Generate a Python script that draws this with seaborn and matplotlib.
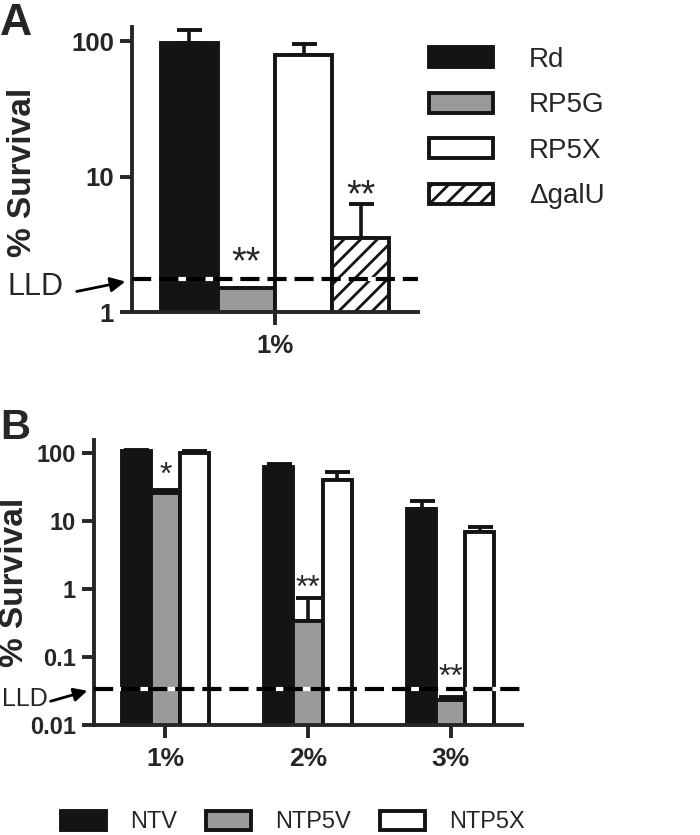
import matplotlib
matplotlib.use("Agg")
import matplotlib.pyplot as plt
import numpy as np
import pandas as pd
import seaborn as sns
from matplotlib.ticker import FixedLocator, FixedFormatter, NullLocator

# ---- data ----
conc_a = ['1%']
strains_a = ['Rd', 'RP5G', 'RP5X', '\u0394galU']
surv_a = [97, 1.5, 79, 3.5]
err_a = [23, 0, 16, 2.8]
stars_a = ['', '**', '', '**']
star_y_a = [None, 2.3, None, 7.2]
lld_a = 1.75

conc_b = ['1%', '2%', '3%']
strains_b = ['NTV', 'NTP5V', 'NTP5X']
ntv = [107, 62, 15]
ntv_err = [5, 7, 4.5]
ntp5v = [26, 0.34, 0.023]
ntp5v_err = [2.5, 0.4, 0.003]
ntp5x = [101, 40, 6.9]
ntp5x_err = [5, 12, 1.2]
stars_b = ['*', '**', '**']
star_y_b = [46, 1.0, 0.05]
lld_b = 0.034

# ---- style ----
sns.set_theme(style="ticks")
plt.rcParams['font.family'] = ['Liberation Sans', 'DejaVu Sans']
plt.rcParams['hatch.linewidth'] = 2.0
plt.rcParams['axes.linewidth'] = 2.8

BLACK = '#141414'
GRAY = '#9a9a9a'

fig = plt.figure(figsize=(7, 8.35), dpi=100)
W, H = 700, 835


def px_axes(l, r, t, b):
    return fig.add_axes([l / W, 1 - b / H, (r - l) / W, (b - t) / H])


def style_axis(ax, yticks, ylabels, ysize, xsize):
    ax.set_yscale('log')
    ax.yaxis.set_major_locator(FixedLocator(yticks))
    ax.yaxis.set_major_formatter(FixedFormatter(ylabels))
    ax.yaxis.set_minor_locator(NullLocator())
    sns.despine(ax=ax)
    ax.tick_params(axis='both', length=9, width=2.8, pad=4)
    ax.tick_params(axis='y', labelsize=ysize)
    ax.tick_params(axis='x', labelsize=xsize, pad=7)
    for lab in ax.get_yticklabels() + ax.get_xticklabels():
        lab.set_fontweight('bold')
    ax.set_xlabel('')
    ax.set_facecolor('white')


def add_errors(ax, errs):
    for cont, e in zip(ax.containers, errs):
        xs = [b.get_x() + b.get_width() / 2 for b in cont]
        ys = [b.get_height() for b in cont]
        ax.errorbar(xs, ys, yerr=[np.zeros(len(e)), e], fmt='none', ecolor=BLACK,
                    elinewidth=2.6, capsize=9, capthick=2.8, zorder=1)


# ---- panel A ----
ax_a = px_axes(132, 418, 27, 312)
df_a = pd.DataFrame({'conc': conc_a * len(strains_a), 'strain': strains_a, 'surv': surv_a})
sns.barplot(data=df_a, x='conc', y='surv', hue='strain', hue_order=strains_a,
            palette=[BLACK, GRAY, 'white', 'white'], width=0.8, ax=ax_a,
            edgecolor=BLACK, linewidth=2.8, legend=False, zorder=2)
ax_a.containers[3][0].set_hatch('//')
add_errors(ax_a, [[e] for e in err_a])
style_axis(ax_a, [1, 10, 100], ['1', '10', '100'], 18.5, 18.5)
ax_a.set_ylim(1, 127)
ax_a.set_xlim(-0.5, 0.5)
ax_a.axhline(lld_a, color='black', lw=3, dashes=(4.6, 1.9), gapcolor='white', zorder=3)
for cont, s, sy in zip(ax_a.containers, stars_a, star_y_a):
    if s:
        b = cont[0]
        ax_a.text(b.get_x() + b.get_width() / 2, sy, s, ha='center', va='center',
                  fontsize=27, zorder=4)
ax_a.set_ylabel('% Survival', fontsize=24, fontweight='bold')
ax_a.yaxis.set_label_coords(-0.33, 0.49)
ax_a.legend(handles=[c[0] for c in ax_a.containers], labels=strains_a,
            loc='upper left', bbox_to_anchor=(429 / W, 1 - 47 / H),
            bbox_transform=fig.transFigure, frameon=False, fontsize=20,
            handlelength=2.3, handleheight=0.72, handletextpad=1.3,
            labelspacing=0.7, borderpad=0, borderaxespad=0)
fig.text(0 / W, 1 - 3 / H, 'A', fontsize=32, fontweight='bold', ha='left', va='top')
fig.text(35 / W, 1 - 287 / H, 'LLD', fontsize=22, ha='center', va='center')
ax_a.annotate('', xy=(128, H - 281), xycoords='figure pixels',
              xytext=(74, H - 292), textcoords='figure pixels',
              arrowprops=dict(arrowstyle='-|>', color='black', lw=2, mutation_scale=22))

# ---- panel B ----
ax_b = px_axes(94, 522, 440, 725)
df_b = pd.DataFrame({
    'conc': conc_b * 3,
    'strain': np.repeat(strains_b, len(conc_b)),
    'surv': ntv + ntp5v + ntp5x,
})
sns.barplot(data=df_b, x='conc', y='surv', hue='strain', hue_order=strains_b,
            palette=[BLACK, GRAY, 'white'], width=0.61, ax=ax_b,
            edgecolor=BLACK, linewidth=2.8, legend=False, zorder=2)
add_errors(ax_b, [ntv_err, ntp5v_err, ntp5x_err])
style_axis(ax_b, [0.01, 0.1, 1, 10, 100], ['0.01', '0.1', '1', '10', '100'], 17, 19)
ax_b.set_ylim(0.01, 155)
ax_b.set_xlim(-0.5, 2.5)
ax_b.axhline(lld_b, color='black', lw=3, dashes=(4.6, 1.9), gapcolor='white', zorder=3)
for b, s, sy in zip(ax_b.containers[1], stars_b, star_y_b):
    ax_b.text(b.get_x() + b.get_width() / 2, sy, s, ha='center', va='center',
              fontsize=23, zorder=4)
ax_b.set_ylabel('% Survival', fontsize=24, fontweight='bold')
ax_b.yaxis.set_label_coords(-0.15, 0.5)
fig.legend(handles=[c[0] for c in ax_b.containers], labels=strains_b,
           loc='center', bbox_to_anchor=(293 / W, 1 - 822 / H), ncol=3,
           frameon=False, fontsize=17,
           handlelength=1.9, handleheight=0.9,
           handletextpad=1.05, columnspacing=1.2, borderpad=0)
fig.text(0 / W, 1 - 408 / H, 'B', fontsize=30, fontweight='bold', ha='left', va='top')
fig.text(25 / W, 1 - 699 / H, 'LLD', fontsize=18, ha='center', va='center')
ax_b.annotate('', xy=(90, H - 690), xycoords='figure pixels',
              xytext=(48, H - 702), textcoords='figure pixels',
              arrowprops=dict(arrowstyle='-|>', color='black', lw=2, mutation_scale=20))

fig.savefig('out.png', dpi=100, facecolor='white')
